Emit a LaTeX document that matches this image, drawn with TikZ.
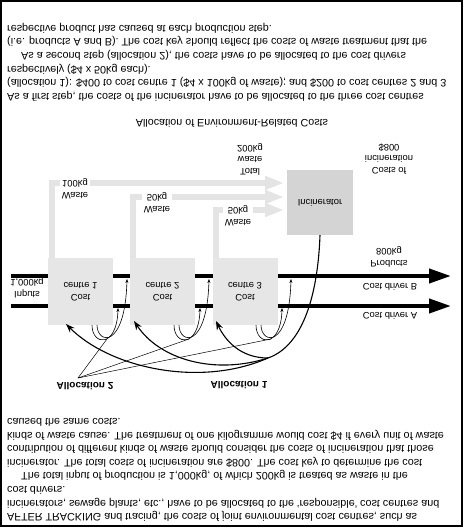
\documentclass[tikz,border=0pt]{standalone}
\usepackage{fontspec}
\setmainfont{Liberation Sans}
\usetikzlibrary{arrows.meta}
\definecolor{wastegray}{HTML}{E4E4E4}
\definecolor{boxgray}{HTML}{E6E6E6}
\definecolor{incgray}{HTML}{D4D4D4}
\begin{document}
\begin{tikzpicture}[x=1pt,y=1pt,yscale=-1,
  every node/.append style={transform shape},
  para/.style={anchor=west, align=left, inner sep=0pt, font=\fontsize{10.8}{13.6}\selectfont},
  lbl/.style={align=center, inner sep=0pt, font=\fontsize{9.4}{11.5}\selectfont},
  wlbl/.style={lbl, fill=white, inner sep=2pt},
  boldlbl/.style={inner sep=0pt, font=\fontsize{10}{11}\selectfont\bfseries},
  centrebox/.style={draw=none, fill=boxgray, minimum width=65pt, minimum height=67pt, align=center, inner sep=0pt, font=\fontsize{9.4}{11.5}\selectfont},
  incbox/.style={draw=none, fill=incgray, minimum width=66pt, minimum height=65pt, align=center, inner sep=0pt, font=\fontsize{9.4}{11.5}\selectfont},
  driver/.style={line width=4pt, -{Triangle[length=22pt,width=14pt]}},
  waste/.style={draw=wastegray, line width=6pt, line join=miter, -{Triangle[length=19pt,width=13pt,fill=wastegray]}},
  alloc/.style={line width=1.1pt, -{Stealth[length=9pt,width=6.5pt]}},
  loop/.style={line width=0.6pt, -{Stealth[length=4pt,width=3pt]}},
  fan/.style={line width=0.5pt}
]
\useasboundingbox (0,0) rectangle (463,527);
\draw[line width=1.6pt] (1,1) rectangle (462,526);

% text
\node[para] (p1) at (7,62) {As a first step, the costs of the incinerator have to be allocated to the three cost centres\\
(allocation 1): \$400 to cost centre 1 (\$4 x 100kg of waste); and \$200 to cost centres 2 and 3\\
respectively (\$4 x 50kg each).\\
\hspace*{14pt}As a second step (allocation 2), the costs have to be allocated to the cost drivers\\
(i.e. products A and B). The cost key should reflect the costs of waste treatment that the\\
respective product has caused at each production step.};
\node[inner sep=0pt, font=\fontsize{10.7}{12}\selectfont] (title) at (232,123) {Allocation of Environment-Related Costs};
\node[para] (p2) at (7,470) {AFTER TRACKING and tracing, the costs of joint environmental cost centres, such as\\
incinerators, sewage plants, etc., have to be allocated to the `responsible' cost centres and\\
cost drivers.\\
\hspace*{14pt}The total input of production is 1,000kg, of which 200kg is treated as waste in the\\
incinerator. The total costs of incineration are \$800. The cost key to determine the cost\\
contribution of different kinds of waste should consider the costs of incineration that those\\
kinds of waste cause. The treatment of one kilogramme would cost \$4 if every unit of waste\\
caused the same costs.};

% coordinates for driver lines
\coordinate (inB) at (11,276);
\coordinate (outB) at (451,276);
\coordinate (inA) at (11,306);
\coordinate (outA) at (451,306);
\draw[driver] (inB) -- (outB);
\draw[driver] (inA) -- (outA);

% boxes
\node[centrebox] (c1) at (80.5,291.5) {Cost\\centre 1};
\node[centrebox] (c2) at (162.5,291.5) {Cost\\centre 2};
\node[centrebox] (c3) at (245,291.5) {Cost\\centre 3};
\node[incbox] (inc) at (320,202.5) {Incinerator};

% waste flows
\coordinate (w1) at (52,258);
\coordinate (w2) at (133,258);
\coordinate (w3) at (216,258);
\coordinate (t1) at (284,183);
\coordinate (t2) at (284,197);
\coordinate (t3) at (284,210);
\draw[waste] (w1) |- (t1);
\draw[waste] (w2) |- (t2);
\draw[waste] (w3) |- (t3);
\node[wlbl] (wl1) at (75,189) {Waste\\100kg};
\node[wlbl] (wl2) at (157,203) {Waste\\50kg};
\node[wlbl] (wl3) at (238,216) {Waste\\50kg};

% labels
\node[lbl] (tot) at (250,159) {Total\\waste\\200kg};
\node[lbl] (coi) at (389,159) {Costs of\\incineration\\\$800};
\node[lbl] (inp) at (27,288) {Inputs\\1,000kg};
\node[lbl] (prod) at (389,257) {Products\\800kg};
\node[lbl] (cdB) at (390,287) {Cost driver B};
\node[lbl] (cdA) at (390,316) {Cost driver A};

% allocation 1
\coordinate (F) at (268,358);
\coordinate (tip1) at (66,324);
\coordinate (tip2) at (134,321);
\coordinate (tip3) at (216,321);
\draw[line width=1.1pt] (inc.north) .. controls (318,290) and (305,345) .. (F);
\draw[alloc] (F) .. controls (240,358) and (225,340) .. (tip3);
\draw[alloc] (F) .. controls (215,375) and (160,360) .. (tip2);
\draw[alloc] (F) .. controls (200,388) and (110,368) .. (tip1);
\node[boldlbl] (a1) at (239,385) {Allocation 1};

% allocation 2 loops
\foreach \R/\n in {113/1,195/2,277/3}{
  \coordinate (L\n) at (\R-6,339);
  \draw[loop] (\R-21,325) .. controls (\R-21,346) and (\R+4,348) .. (\R+5,308);
  \draw[loop] (\R-16,325) .. controls (\R-16,344) and (\R+12,350) .. (\R+14,279);
}
\coordinate (a2p) at (78,378);
\draw[fan] (a2p) -- (L1);
\draw[fan] (a2p) -- (L2);
\draw[fan] (a2p) -- (L3);
\node[boldlbl] (a2) at (85,386) {Allocation 2};
\end{tikzpicture}
\end{document}
